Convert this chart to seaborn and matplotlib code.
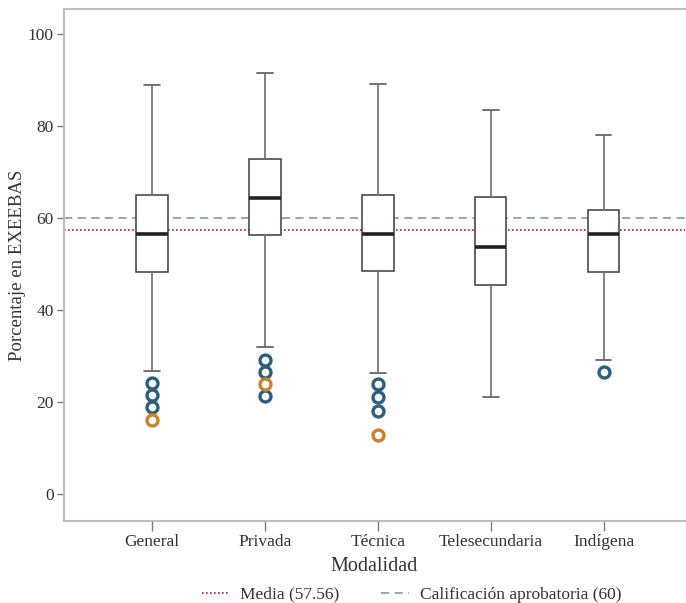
import numpy as np
import pandas as pd
import matplotlib
matplotlib.use("Agg")
import matplotlib.pyplot as plt
from matplotlib.lines import Line2D
import seaborn as sns

# Box summaries (min whisker, Q1, median, Q3, max whisker)
modalidades = ["General", "Privada", "Técnica", "Telesecundaria", "Indígena"]
whisker_low = [26.8, 32.0, 26.4, 21.2, 29.2]
q1 = [48.4, 56.3, 48.5, 45.5, 48.3]
median = [56.6, 64.5, 56.6, 53.7, 56.5]
q3 = [65.1, 72.9, 65.0, 64.7, 61.9]
whisker_high = [89.0, 91.6, 89.3, 83.6, 78.1]

# Outliers (tipo: blue = atípico, orange = extremo)
out_mod = ["General", "General", "General", "General",
           "Privada", "Privada", "Privada", "Privada",
           "Técnica", "Técnica", "Técnica", "Técnica",
           "Indígena"]
out_val = [24.3, 21.5, 18.9, 16.2,
           29.2, 26.6, 23.9, 21.3,
           24.0, 21.1, 18.2, 13.0,
           26.6]
out_tipo = ["a", "a", "a", "e",
            "a", "a", "e", "a",
            "a", "a", "a", "e",
            "a"]

media = 57.56
aprobatoria = 60

TEXT = "#333333"
SPINE = "#bdbdbd"
DOT = (0, (1, 1.4))
DASH = (0, (4.2, 2.8))

sns.set_style("white")
plt.rcParams["font.family"] = ["Liberation Serif", "DejaVu Serif"]

# five points per group -> quartiles land exactly on the read values
rows = []
for i, m in enumerate(modalidades):
    for v in (whisker_low[i], q1[i], median[i], q3[i], whisker_high[i]):
        rows.append({"Modalidad": m, "valor": v})
df = pd.DataFrame(rows)
df_out = pd.DataFrame({"Modalidad": out_mod, "valor": out_val, "tipo": out_tipo})

fig = plt.figure(figsize=(6.86, 6.03), dpi=100)
ax = fig.add_axes([0.0933, 0.136, 0.905, 0.849])

sns.boxplot(data=df, x="Modalidad", y="valor", order=modalidades, whis=(0, 100),
            showfliers=False, width=0.28, ax=ax,
            boxprops=dict(facecolor="white", edgecolor="#3a3a3a", linewidth=1.1),
            medianprops=dict(color="#222222", linewidth=2.6),
            whiskerprops=dict(color="#777777", linewidth=1.3),
            capprops=dict(color="#666666", linewidth=1.3))

for t, col in [("a", "#2d5f7c"), ("e", "#c7812f")]:
    sub = df_out[df_out["tipo"] == t]
    xs = [modalidades.index(m) for m in sub["Modalidad"]]
    ax.scatter(xs, sub["valor"], s=62, facecolors="white", edgecolors=col,
               linewidths=2.4, zorder=4)

ax.axhline(aprobatoria, color="#8fada0", linestyle=DASH, linewidth=1.4, zorder=1)
ax.axhline(media, color="#a3203a", linestyle=DOT, linewidth=1.2, zorder=1)

ax.set_xlim(-0.78, 4.72)
ax.set_ylim(-5.8, 105.5)
ax.set_yticks([0, 20, 40, 60, 80, 100])
ax.set_xlabel("Modalidad", fontsize=14.5, color=TEXT, labelpad=5)
ax.set_ylabel("Porcentaje en EXEEBAS", fontsize=13.5, color=TEXT, labelpad=1)
ax.tick_params(axis="both", which="both", direction="out", width=1,
               color="#777777", labelsize=12.5, labelcolor=TEXT, pad=2.5,
               bottom=True, left=True)
ax.tick_params(axis="x", length=7.2)
ax.tick_params(axis="y", length=5)
for side in ["left", "bottom", "top"]:
    ax.spines[side].set_color(SPINE)
    ax.spines[side].set_linewidth(1.5)
ax.spines["right"].set_visible(False)

handles = [Line2D([], [], color="#a3203a", linestyle=DOT, linewidth=1.2),
           Line2D([], [], color="#8fada0", linestyle=DASH, linewidth=1.4)]
fig.legend(handles, [f"Media ({media})", f"Calificación aprobatoria ({aprobatoria})"],
           loc="center", bbox_to_anchor=(0.6, 0.014), ncol=2, frameon=False,
           fontsize=12.5, labelcolor=TEXT, handlelength=1.6, columnspacing=2.4,
           handletextpad=0.6)

fig.savefig("out.png", dpi=100)
